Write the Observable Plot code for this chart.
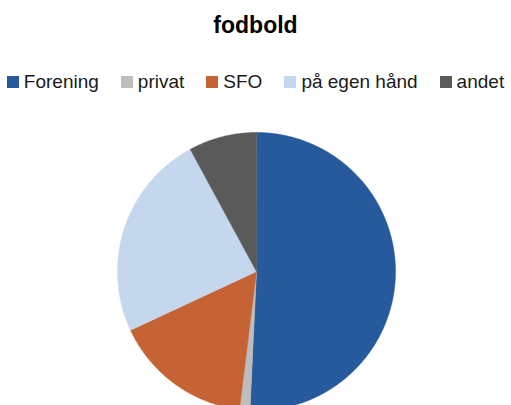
<!DOCTYPE html>
<html>
<head>
<meta charset="utf-8">
<script src="https://cdn.jsdelivr.net/npm/d3@7"></script>
<script src="https://cdn.jsdelivr.net/npm/@observablehq/plot@0.6"></script>
<style>
  html, body { margin: 0; padding: 0; background: #fff; }
  body { width: 511px; height: 405px; overflow: hidden; position: relative; font-family: "Liberation Sans", Arial, sans-serif; }
  #title { position: absolute; top: 12px; left: 0; width: 511px; text-align: center; font-weight: bold; font-size: 23px; color: #000; line-height: 26px; }
  #legend { position: absolute; top: 70px; left: 0; width: 511px; display: flex; justify-content: center; gap: 22px; font-size: 19px; color: #1a1a1a; line-height: 24px; }
  .item { display: flex; align-items: center; gap: 5px; white-space: nowrap; }
  .sw { width: 12px; height: 12px; display: inline-block; }
  #chart { position: absolute; top: 100px; left: 0; }
</style>
</head>
<body>
<div id="title"></div>
<div id="legend"></div>
<div id="chart"></div>
<script>
const title = "fodbold";
const categories = ["Forening", "privat", "SFO", "på egen hånd", "andet"];
const values = [50.7, 1.2, 16.1, 24.0, 7.9];
const colors = ["#265A9C", "#BDBDBD", "#C56334", "#C5D7ED", "#5A5A5A"];

document.getElementById("title").textContent = title;
const legend = document.getElementById("legend");
categories.forEach((c, i) => {
  const it = document.createElement("div");
  it.className = "item";
  const sw = document.createElement("span");
  sw.className = "sw";
  sw.style.background = colors[i];
  const t = document.createElement("span");
  t.textContent = c;
  it.appendChild(sw); it.appendChild(t);
  legend.appendChild(it);
});

const data = categories.map((c, i) => ({name: c, value: values[i]}));
const arcs = d3.pie().sort(null).value(d => d.value)(data);
// sample each arc outline on the unit circle (angle measured clockwise from top)
const pts = [];
arcs.forEach(a => {
  const n = Math.max(8, Math.ceil((a.endAngle - a.startAngle) / 0.01));
  pts.push({name: a.data.name, x: 0, y: 0});
  for (let k = 0; k <= n; k++) {
    const t = a.startAngle + (a.endAngle - a.startAngle) * k / n;
    pts.push({name: a.data.name, x: Math.sin(t), y: Math.cos(t)});
  }
});

const chart = Plot.plot({
  width: 511,
  height: 342,
  marginLeft: 117,
  marginRight: 116,
  marginTop: 32,
  marginBottom: 32,
  x: {domain: [-1, 1], axis: null},
  y: {domain: [-1, 1], axis: null},
  color: {domain: categories, range: colors},
  style: {overflow: "visible"},
  marks: [
    Plot.line(pts, {x: "x", y: "y", z: "name", fill: "name", stroke: "name", strokeWidth: 0.5, curve: "linear-closed"})
  ]
});
document.getElementById("chart").appendChild(chart);
</script>
</body>
</html>
